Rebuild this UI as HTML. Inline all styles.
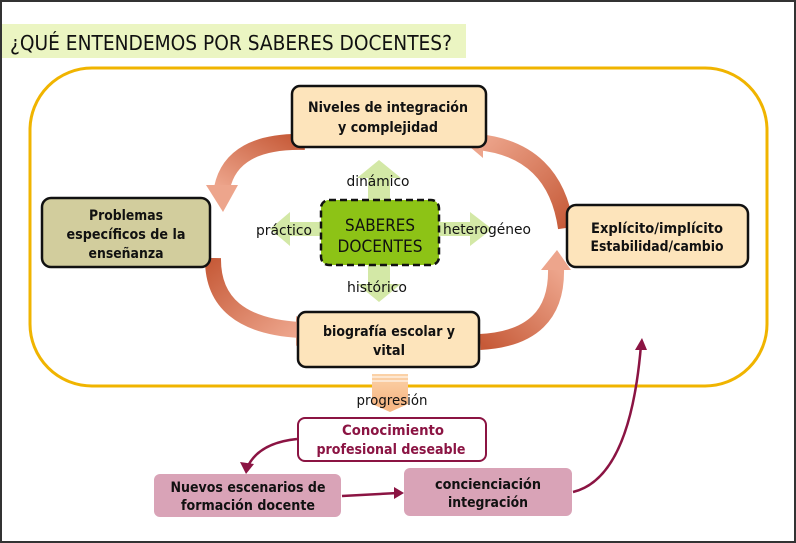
<!DOCTYPE html>
<html><head><meta charset="utf-8"><style>
html,body{margin:0;padding:0;background:#fff;}
svg{display:block}
text{font-family:"DejaVu Sans","Liberation Sans",sans-serif;}
</style></head><body>
<svg width="796" height="543" viewBox="0 0 796 543" xmlns="http://www.w3.org/2000/svg">
<defs>
<linearGradient id="g1" x1="1" y1="0" x2="0" y2="1"><stop offset="0" stop-color="#c65a38"/><stop offset="1" stop-color="#eda58c"/></linearGradient>
<linearGradient id="g2" x1="0" y1="0" x2="1" y2="1"><stop offset="0" stop-color="#c65a38"/><stop offset="1" stop-color="#eda58c"/></linearGradient>
<linearGradient id="g3" x1="0" y1="1" x2="1" y2="0"><stop offset="0" stop-color="#c65a38"/><stop offset="1" stop-color="#eda58c"/></linearGradient>
<linearGradient id="g4" x1="1" y1="1" x2="0" y2="0"><stop offset="0" stop-color="#c65a38"/><stop offset="1" stop-color="#eda58c"/></linearGradient>
<linearGradient id="gp" x1="0" y1="0" x2="0" y2="1"><stop offset="0" stop-color="#fbd2a8"/><stop offset="1" stop-color="#f7b886"/></linearGradient>
</defs>
<rect x="1" y="1" width="794" height="541" fill="#fff" stroke="#333" stroke-width="2"/>
<rect x="2" y="24" width="464" height="34" fill="#ebf5c2"/>
<text x="10" y="50" font-size="20" fill="#111" textLength="442" lengthAdjust="spacingAndGlyphs">¿QUÉ ENTENDEMOS POR SABERES DOCENTES?</text>
<rect x="30" y="68" width="737" height="318" rx="62" fill="none" stroke="#f0b400" stroke-width="3"/>

<g fill="#d3e8a6">
<polygon points="368,205 368,178 357,178 379,160 401,178 390,178 390,205"/>
<polygon points="368,260 368,284 357,284 379,302 401,284 390,284 390,260"/>
<polygon points="325,222 290,222 290,212 270,229 290,246 290,236 325,236"/>
<polygon points="435,222 470,222 470,212 492,229 470,246 470,236 435,236"/>
</g>

<g fill="none" stroke-width="16">
<path d="M305 142 Q232 140 222 188" stroke="url(#g1)"/>
<path d="M213 258 Q212 325 300 330" stroke="url(#g2)"/>
<path d="M480 342 Q558 338 556 268" stroke="url(#g3)"/>
<path d="M566 228 Q555 150 478 142" stroke="url(#g4)"/>
</g>
<polygon points="206,185 238,185 223,212" fill="#eda58c"/>
<polygon points="296,316 296,346 320,330" fill="#eda58c"/>
<polygon points="541,270 571,270 557,250" fill="#eda58c"/>
<polygon points="483,126 483,158 463,141" fill="#eda58c"/>

<g font-size="14" font-weight="bold" text-anchor="middle" fill="#111">
<rect x="292" y="86" width="194" height="61" rx="8" fill="#fde4bb" stroke="#111" stroke-width="2.5"/>
<text x="388" y="112" textLength="160" lengthAdjust="spacingAndGlyphs">Niveles de integración</text>
<text x="388" y="132" textLength="100" lengthAdjust="spacingAndGlyphs">y complejidad</text>

<rect x="42" y="198" width="168" height="69" rx="9" fill="#d2cd9d" stroke="#111" stroke-width="2.5"/>
<text x="126" y="220" textLength="74" lengthAdjust="spacingAndGlyphs">Problemas</text>
<text x="126" y="239" textLength="119" lengthAdjust="spacingAndGlyphs">específicos de la</text>
<text x="126" y="258" textLength="75" lengthAdjust="spacingAndGlyphs">enseñanza</text>

<rect x="567" y="205" width="181" height="62" rx="9" fill="#fde4bb" stroke="#111" stroke-width="2.5"/>
<text x="657" y="233" textLength="132" lengthAdjust="spacingAndGlyphs">Explícito/implícito</text>
<text x="657" y="251" textLength="133" lengthAdjust="spacingAndGlyphs">Estabilidad/cambio</text>

<rect x="298" y="312" width="181" height="55" rx="8" fill="#fde4bb" stroke="#111" stroke-width="2.5"/>
<text x="389" y="336" textLength="132" lengthAdjust="spacingAndGlyphs">biografía escolar y</text>
<text x="389" y="355" textLength="32" lengthAdjust="spacingAndGlyphs">vital</text>
</g>

<rect x="321" y="200" width="118" height="65" rx="8" fill="#8dc316" stroke="#111" stroke-width="2.5" stroke-dasharray="7,4"/>
<text x="380" y="231" font-size="17" text-anchor="middle" fill="#111" textLength="70" lengthAdjust="spacingAndGlyphs">SABERES</text>
<text x="380" y="252" font-size="17" text-anchor="middle" fill="#111" textLength="85" lengthAdjust="spacingAndGlyphs">DOCENTES</text>

<g font-size="14" fill="#111" text-anchor="middle">
<text x="378" y="186" textLength="63" lengthAdjust="spacingAndGlyphs">dinámico</text>
<text x="377" y="292" textLength="60" lengthAdjust="spacingAndGlyphs">histórico</text>
<text x="284" y="235" textLength="56" lengthAdjust="spacingAndGlyphs">práctico</text>
<text x="487" y="234" textLength="88" lengthAdjust="spacingAndGlyphs">heterogéneo</text>
</g>

<rect x="372" y="374" width="36" height="30" fill="url(#gp)"/>
<polygon points="372,404 408,404 390,412" fill="#f7b886"/>
<line x1="372" y1="377" x2="408" y2="377" stroke="#fff" stroke-width="1"/>
<line x1="372" y1="381" x2="408" y2="381" stroke="#fff" stroke-width="1"/>
<text x="392" y="405" font-size="14" text-anchor="middle" fill="#111" textLength="71" lengthAdjust="spacingAndGlyphs">progresión</text>

<g font-size="14" font-weight="bold" text-anchor="middle">
<rect x="298" y="418" width="188" height="43" rx="7" fill="#fff" stroke="#8b1443" stroke-width="2"/>
<text x="393" y="435" fill="#8b1443" textLength="102" lengthAdjust="spacingAndGlyphs">Conocimiento</text>
<text x="391" y="454" fill="#8b1443" textLength="149" lengthAdjust="spacingAndGlyphs">profesional deseable</text>

<rect x="154" y="474" width="187" height="43" rx="6" fill="#d9a3b7"/>
<text x="248" y="492" fill="#111" textLength="155" lengthAdjust="spacingAndGlyphs">Nuevos escenarios de</text>
<text x="248" y="510" fill="#111" textLength="134" lengthAdjust="spacingAndGlyphs">formación docente</text>

<rect x="404" y="468" width="168" height="48" rx="6" fill="#d9a3b7"/>
<text x="488" y="489" fill="#111" textLength="106" lengthAdjust="spacingAndGlyphs">concienciación</text>
<text x="488" y="507" fill="#111" textLength="80" lengthAdjust="spacingAndGlyphs">integración</text>
</g>

<g fill="none" stroke="#8b1443" stroke-width="2.5">
<path d="M297 439 Q258 443 247 468"/>
<path d="M342 496 L398 493"/>
<path d="M573 492 Q630 478 641 345"/>
</g>
<g fill="#8b1443">
<polygon points="240,462 254,464 246,474"/>
<polygon points="394,487 404,493 394,499"/>
<polygon points="635,350 647,350 642,338"/>
</g>
</svg>
</body></html>
